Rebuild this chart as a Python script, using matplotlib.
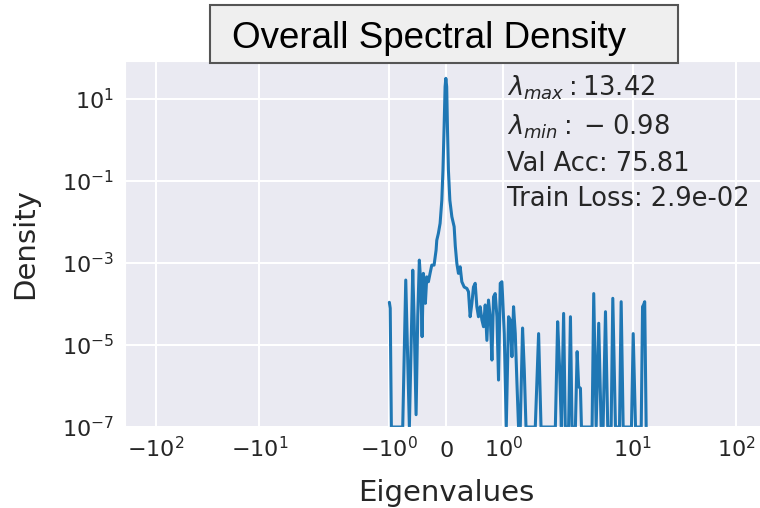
import matplotlib
matplotlib.use('Agg')
import matplotlib.pyplot as plt
from matplotlib.patches import Rectangle
from matplotlib.ticker import NullFormatter
import seaborn as sns

# floor of the density curve (density + 1e-7)
F = 1e-7

# eigenvalue grid points
eig = [-0.99, -0.975, -0.955, -0.757, -0.704, -0.641, -0.582, -0.559, -0.524, -0.495,
       -0.467, -0.442, -0.419, -0.397, -0.379, -0.362, -0.337, -0.309, -0.280, -0.250,
       -0.210, -0.175, -0.163, -0.135, -0.105, -0.075, -0.055, -0.035, -0.018, -0.005,
       0.010, 0.023, 0.040, 0.065, 0.100, 0.140, 0.160, 0.187, 0.215, 0.245,
       0.274, 0.315, 0.362, 0.390, 0.419, 0.449, 0.477, 0.507, 0.536, 0.564,
       0.594, 0.624, 0.652, 0.682, 0.711, 0.739, 0.769, 0.799, 0.827, 0.856,
       0.886, 0.914, 0.944, 0.973, 1.014, 1.049, 1.089, 1.118, 1.148, 1.176,
       1.206, 1.235, 1.263, 1.293, 1.333, 1.363, 1.393, 1.555, 1.613, 1.655,
       1.905, 1.945, 1.980, 2.025, 2.13, 2.21, 2.38, 2.48, 2.57, 2.77,
       2.88, 2.98, 3.10, 3.17, 4.02, 4.17, 4.40, 4.66, 4.92, 5.14,
       5.42, 5.70, 6.15, 6.38, 6.77, 7.41, 7.69, 8.04, 9.68, 10.06,
       10.59, 12.03, 12.39, 12.66, 13.0, 13.43]

# spectral density at those points
dens = [1.1e-4, 7.9e-5, F, F, 3.85e-4, F, 6.7e-4, 4.9e-5, 2.0e-7, 4.9e-5,
        1.18e-3, 3.2e-4, 1.6e-5, 5.6e-4, 3.2e-4, 1.04e-4, 4.6e-4, 3.5e-4, 5.6e-4, 8.9e-4,
        8.9e-4, 2.07e-3, 3.6e-3, 5.3e-3, 9.3e-3, 0.034, 0.185, 2.1, 20, 32,
        20, 2.1, 0.185, 0.034, 0.0135, 7.7e-3, 2.6e-3, 9.8e-4, 5.6e-4, 8.1e-4,
        3.5e-4, 2.6e-4, 2.4e-4, 2.0e-4, 4.9e-5, 1.04e-4, 2.6e-4, 3.2e-4, 8.6e-5, 4.9e-5,
        8.6e-5, 4.1e-5, 2.8e-5, 9.5e-5, 1.3e-5, 1.25e-4, 4.9e-5, 4.3e-6, 1.5e-4, 1.8e-4,
        4.9e-5, 1.4e-6, 3.2e-4, 3.5e-4, 1.9e-5, F, 4.9e-5, 4.1e-5, 5.2e-6, 8.6e-5,
        1.9e-5, 1.2e-6, F, F, 2.6e-5, 2.5e-6, F, F, 1.9e-5, F,
        F, 3.7e-5, 2.5e-6, F, 5.9e-5, F, F, 4.9e-5, F, F,
        6.9e-6, 9.6e-7, 8.8e-7, F, F, 1.8e-4, F, 3.4e-5, F, F,
        6.5e-5, F, F, 1.38e-4, F, F, 1.14e-4, F, F, 1.9e-5,
        F, F, 8.6e-5, 9.5e-5, 1.14e-4, F]

lam_max = 13.42
lam_min = -0.98
val_acc = 75.81
train_loss = 2.9e-02

sns.set_style('darkgrid')
plt.rcParams['font.family'] = ['DejaVu Sans']

fig = plt.figure(figsize=(7.6, 5.08), dpi=100)
ax = fig.add_axes([0.1645, 0.1594, 0.845, 0.7206])

ax.plot(eig, dens, color='#1f77b4', lw=2.2)
ax.set_xscale('symlog', linthresh=2, linscale=1)
ax.set_yscale('log')
ax.set_xlim(-200, 200)
ax.set_ylim(1e-7, 85)
ax.grid(True, color='white', lw=1.5)
ax.xaxis.set_minor_formatter(NullFormatter())
ax.yaxis.set_minor_formatter(NullFormatter())

ax.tick_params(axis='both', labelsize=16, colors='#262626', length=0)
ax.tick_params(axis='x', pad=21.5)
ax.tick_params(axis='y', pad=8)
# line the x tick labels up on their baseline so "0" sits level with "10^0"
for lab in ax.get_xticklabels():
    lab.set_verticalalignment('baseline')
ax.set_xlabel('Eigenvalues', fontsize=21, color='#262626', labelpad=13)
ax.set_ylabel('Density', fontsize=21, color='#262626', labelpad=16)

info = ('$\\lambda_{max}:%.2f$\n$\\lambda_{min}:\\;{-}\\;%.2f$\nVal Acc: %.2f\nTrain Loss: %.1e'
        % (lam_max, abs(lam_min), val_acc, train_loss))
ax.text(0.595, 0.966, info, transform=ax.transAxes, va='top', ha='left',
        fontsize=18.5, color='#262626', linespacing=1.48)

# boxed title above the plot
fig.patches.append(Rectangle((0.2763, 0.8766), 0.6158, 0.1136, transform=fig.transFigure,
                             facecolor='#efefef', edgecolor='#555555', lw=1.5, zorder=5))
fig.text(0.305, 0.925, 'Overall Spectral Density', fontsize=26.5, family='Liberation Sans',
         va='center', ha='left', color='black', zorder=6)

plt.savefig('out.png', dpi=100)
